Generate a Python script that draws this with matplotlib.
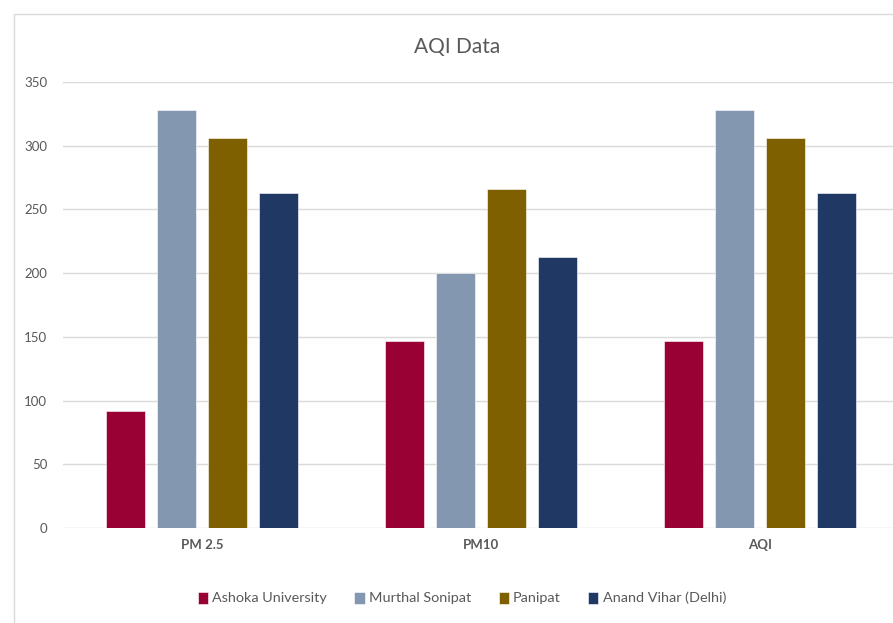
import matplotlib.pyplot as plt
import numpy as np
from matplotlib.patches import Rectangle

# AQI readings per pollutant
categories = ["PM 2.5", "PM10", "AQI"]
stations = ["Ashoka University", "Murthal Sonipat", "Panipat", "Anand Vihar (Delhi)"]
ashoka = [92, 147, 147]
murthal = [328, 200, 328]
panipat = [306, 266, 306]
anand = [263, 213, 263]
colors = ["#990033", "#8497B0", "#7F6000", "#203864"]

plt.rcParams["font.family"] = ["Lato", "DejaVu Sans"]
grey = "#595959"

fig = plt.figure(figsize=(8.93, 6.23), dpi=100)
W, H = 893, 623
ax = fig.add_axes([62.5 / W, (H - 528) / H, (899.5 - 62.5) / W, (528 - 82) / H])

x = np.arange(len(categories))
pitch = 0.183
width = 0.14
for i, (vals, name, c) in enumerate(zip([ashoka, murthal, panipat, anand], stations, colors)):
    ax.bar(x + (i - 1.5) * pitch, vals, width, color=c, label=name,
           edgecolor="white", linewidth=0.4, zorder=3)

ax.set_xlim(-0.5, 2.5)
ax.set_ylim(0, 350)
ax.set_yticks(range(0, 351, 50))
ax.grid(axis="y", color="#d9d9d9", linewidth=1, zorder=0)
for s in ax.spines.values():
    s.set_visible(False)
ax.tick_params(axis="y", length=0, pad=11, labelsize=9.5, labelcolor=grey)
ax.tick_params(axis="x", length=0, pad=8, labelsize=9.5, labelcolor=grey)
ax.set_xticks(x)
ax.set_xticklabels(categories, fontweight="bold")

fig.text(457 / W, 1 - 47 / H, "AQI Data", ha="center", va="center",
         fontsize=15, color=grey)

fig.legend(loc="center", bbox_to_anchor=(462 / W, 1 - 598 / H), ncol=4,
           frameon=False, handlelength=0.7, handleheight=0.9, handletextpad=0.3,
           columnspacing=1.9, fontsize=10.4, labelcolor=grey)

# chart area border
fig.patches.append(Rectangle((14 / W, -0.1), 1.2, 1 - 14 / H + 0.1,
                             transform=fig.transFigure, fill=False,
                             edgecolor="#d9d9d9", linewidth=1))

fig.savefig("out.png", dpi=100)
